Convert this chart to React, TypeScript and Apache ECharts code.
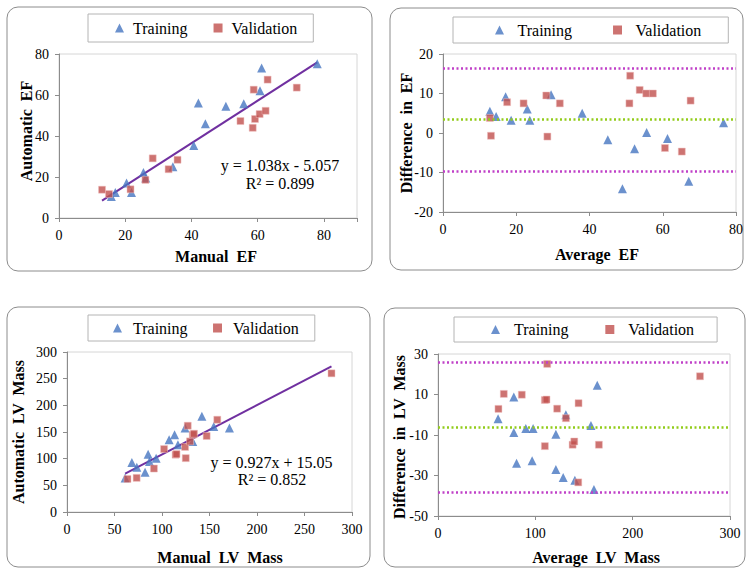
import React, { useEffect, useRef } from 'react';
import * as echarts from 'echarts';

// ---------- DATA ----------
const efTraining: number[][] = [
  [15.8, 10.5], [17.0, 12.5], [20.4, 17.1], [21.9, 12.5], [25.5, 22.2], [26.2, 19.5], [34.4, 25.0],
  [40.7, 35.4], [42.1, 56.1], [44.2, 46.0], [50.4, 54.5], [55.8, 55.7], [60.7, 62.1], [61.2, 73.2], [78.0, 75.3],
];
const efValidation: number[][] = [
  [13.0, 13.8], [15.1, 11.7], [21.6, 14.0], [26.1, 18.6], [28.3, 29.1], [33.1, 23.8], [35.8, 28.4],
  [54.8, 47.3], [58.5, 44.0], [58.8, 62.6], [59.2, 48.3], [60.6, 50.7], [62.4, 52.3], [63.0, 67.5], [71.8, 63.6],
];
const efDiffTraining: number[][] = [
  [12.8, 5.5], [14.5, 4.2], [17.1, 9.2], [18.6, 3.2], [23.0, 6.1], [23.7, 3.2], [29.5, 9.7], [38.0, 5.0],
  [45.0, -1.7], [49.0, -14.1], [52.3, -4.0], [55.6, 0.1], [61.3, -1.4], [67.1, -12.2], [76.6, 2.6],
];
const efDiffValidation: number[][] = [
  [12.8, 3.8], [13.1, -0.7], [17.5, 7.8], [22.0, 7.5], [28.2, 9.5], [28.5, -0.9], [31.9, 7.5], [50.9, 7.5],
  [51.1, 14.5], [53.7, 10.9], [55.5, 10.0], [57.3, 10.0], [60.6, -3.8], [65.2, -4.7], [67.6, 8.2],
];
const lvTraining: number[][] = [
  [61.2, 63.7], [68.3, 93], [73.5, 83.7], [82.2, 74.3], [85.4, 108.2], [86.8, 94.5], [93.8, 101],
  [107.5, 135.6], [113.2, 145], [116.8, 126], [124.3, 157.5], [132.4, 132.4], [142, 179.3], [154.5, 160.5], [171, 157.5],
];
const lvValidation: number[][] = [
  [63.7, 61.9], [73.3, 64], [91.5, 81.5], [102.2, 118], [114.3, 107.5], [115.3, 108.5], [124.3, 122],
  [125, 101], [127.1, 161.8], [129.5, 132.4], [132.4, 145], [133.7, 146.8], [147, 142.5], [158.2, 173], [278.4, 260],
];
const lvDiffTraining: number[][] = [
  [61.7, -2.0], [77.9, 8.8], [77.9, -8.8], [80.7, -23.9], [90.2, -6.8], [96.7, -22.7], [97.7, -6.8],
  [121.1, -9.6], [121.1, -27.0], [128.6, -31.0], [131.4, 0.0], [140.6, -32.4], [157.1, -5.3], [160.2, -36.9], [163.6, 14.6],
];
const lvDiffValidation: number[][] = [
  [62.1, 2.9], [67.6, 10.3], [86.1, 9.9], [109.8, 7.3], [111.5, 7.5], [112.2, 25.1], [109.8, -15.5],
  [122.4, 3.0], [131.4, -1.7], [138.3, -14.8], [140, -13.2], [144.1, -33.4], [144.4, 5.7], [165.3, -14.8], [269.2, 19.0],
];
// regression: [slope, intercept]
const efFit = [1.038, -5.057];
const lvFit = [0.927, 15.05];
// Bland-Altman: [upper, mean, lower]
const efLimits = [16.5, 3.4, -9.8];
const lvLimits = [26.0, -6.3, -38.4];
const efEquation = ['y = 1.038x - 5.057', 'R² = 0.899'];
const lvEquation = ['y = 0.927x + 15.05', 'R² = 0.852'];
const legendNames = ['Training', 'Validation'];

// ---------- STYLE ----------
const FONT = 'Liberation Serif';
const BLUE = '#4676C0';
const RED = '#C0504D';
const PURPLE = '#7030A0';
const DOT_PURPLE = '#C040C8';
const DOT_GREEN = '#92CC1A';
const AXIS = '#8C8C8C';

function fitLine(pts: number[][], fit: number[]) {
  const xs = pts.map((p) => p[0]);
  const x0 = Math.min(...xs);
  const x1 = Math.max(...xs);
  return [[x0, fit[0] * x0 + fit[1]], [x1, fit[0] * x1 + fit[1]]];
}

function axisCommon(gridIndex: number, min: number, max: number, interval: number, hideMax = false) {
  return {
    type: 'value',
    gridIndex,
    min,
    max,
    interval,
    axisLine: { show: true, onZero: false, lineStyle: { color: AXIS, width: 1 } },
    axisTick: { show: true, length: 4, lineStyle: { color: AXIS } },
    splitLine: { show: false },
    axisLabel: {
      color: '#000',
      fontSize: 14,
      fontFamily: FONT,
      margin: 10,
      formatter: (v: number) => (hideMax && v === max ? '' : String(v)),
    },
  };
}

function legend(left: number, top: number, padding: number[], gap: number, textPad: number) {
  return {
    left,
    top,
    orient: 'horizontal',
    padding,
    itemGap: gap,
    itemWidth: 9,
    itemHeight: 9,
    borderColor: '#B4B4B4',
    borderWidth: 1,
    selectedMode: false,
    textStyle: { fontSize: 16, fontFamily: FONT, color: '#000', padding: [0, 0, 0, textPad] },
    data: [
      { name: legendNames[0], icon: 'triangle', itemStyle: { color: BLUE, borderWidth: 0 } },
      { name: legendNames[1], icon: 'rect', itemStyle: { color: RED, borderWidth: 0 } },
    ],
  };
}

function scatterPair(idx: number, train: number[][], valid: number[][], limits?: number[]) {
  const s: any[] = [
    {
      name: legendNames[0],
      type: 'scatter',
      xAxisIndex: idx,
      yAxisIndex: idx,
      symbol: 'triangle',
      symbolSize: 9,
      itemStyle: { color: BLUE },
      data: train,
      z: 3,
    },
    {
      name: legendNames[1],
      type: 'scatter',
      xAxisIndex: idx,
      yAxisIndex: idx,
      symbol: 'rect',
      symbolSize: 7,
      itemStyle: { color: RED, borderColor: 'rgba(240,190,190,0.6)', borderWidth: 1 },
      data: valid,
      z: 3,
    },
  ];
  if (limits) {
    s.push({
      name: 'limits' + idx,
      type: 'line',
      xAxisIndex: idx,
      yAxisIndex: idx,
      data: [],
      markLine: {
        silent: true,
        symbol: ['none', 'none'],
        label: { show: false },
        lineStyle: { type: [2, 2.5], width: 2.5 },
        data: [
          { yAxis: limits[0], lineStyle: { color: DOT_PURPLE } },
          { yAxis: limits[1], lineStyle: { color: DOT_GREEN } },
          { yAxis: limits[2], lineStyle: { color: DOT_PURPLE } },
        ],
      },
    });
  }
  return s;
}

function fitSeries(idx: number, pts: number[][], fit: number[]) {
  return {
    name: 'fit' + idx,
    type: 'line',
    xAxisIndex: idx,
    yAxisIndex: idx,
    symbol: 'none',
    lineStyle: { color: PURPLE, width: 2 },
    data: fitLine(pts, fit),
    z: 2,
  };
}

function box(x: number, y: number, w: number, h: number) {
  return {
    type: 'rect',
    shape: { x, y, width: w, height: h, r: 11 },
    style: { fill: 'none', stroke: '#8C8C8C', lineWidth: 1 },
    silent: true,
  };
}

function title(text: string, x: number, y: number, vertical = false) {
  return {
    type: 'text',
    x,
    y,
    rotation: vertical ? Math.PI / 2 : 0,
    style: {
      text,
      font: `bold 16px ${FONT}`,
      fill: '#000',
      align: 'center',
      verticalAlign: 'middle',
    },
    silent: true,
  };
}

function plain(text: string, x: number, y: number) {
  return {
    type: 'text',
    x,
    y,
    style: { text, font: `16px ${FONT}`, fill: '#000', align: 'center', verticalAlign: 'middle' },
    silent: true,
  };
}

export default function App() {
  const ref = useRef<HTMLDivElement>(null);
  useEffect(() => {
    if (!ref.current) return;
    const chart = echarts.init(ref.current, null, { renderer: 'svg' });
    const gridBorder = { show: true, borderColor: '#D6D6D6', borderWidth: 1, containLabel: false };
    const option: any = {
      animation: false,
      backgroundColor: '#fff',
      textStyle: { fontFamily: FONT },
      grid: [
        { ...gridBorder, left: 59, top: 54, width: 298, height: 164 },
        { ...gridBorder, left: 443, top: 54, width: 294, height: 158 },
        { ...gridBorder, left: 67, top: 352, width: 285, height: 160 },
        { ...gridBorder, left: 438, top: 354, width: 292, height: 162 },
      ],
      xAxis: [
        axisCommon(0, 0, 90, 20, true),
        axisCommon(1, 0, 80, 20),
        axisCommon(2, 0, 300, 50),
        axisCommon(3, 0, 300, 100),
      ],
      yAxis: [
        axisCommon(0, 0, 80, 20),
        axisCommon(1, -20, 20, 10),
        axisCommon(2, 0, 300, 50),
        axisCommon(3, -50, 30, 20),
      ],
      legend: [
        legend(88, 14, [6, 16, 6, 27], 26, 4),
        legend(453, 17, [5, 27, 5, 42], 41, 8.5),
        legend(88, 315, [5, 16, 5, 25], 25.5, 6),
        legend(454, 317, [4.5, 23, 4.5, 37], 36.8, 9),
      ],
      graphic: [
        box(7, 7, 365, 264),
        box(390, 8, 353, 262),
        box(7, 307, 363, 260),
        box(384, 308, 361, 259),
        title('Automatic  EF', 26, 131, true),
        title('Manual  EF', 216, 256),
        title('Difference  in  EF', 406.5, 133, true),
        title('Average  EF', 597, 254),
        title('Automatic  LV  Mass', 18.5, 432, true),
        title('Manual  LV  Mass', 220, 557),
        title('Difference  in  LV  Mass', 399.5, 437, true),
        title('Average  LV  Mass', 596, 557),
        plain(efEquation[0], 280, 165),
        plain(efEquation[1], 280, 183),
        plain(lvEquation[0], 271.5, 462),
        plain(lvEquation[1], 272, 479),
      ],
      series: [
        ...scatterPair(0, efTraining, efValidation),
        fitSeries(0, [...efTraining, ...efValidation], efFit),
        ...scatterPair(1, efDiffTraining, efDiffValidation, efLimits),
        ...scatterPair(2, lvTraining, lvValidation),
        fitSeries(2, [...lvTraining, ...lvValidation], lvFit),
        ...scatterPair(3, lvDiffTraining, lvDiffValidation, lvLimits),
      ],
    };
    chart.setOption(option);
    return () => chart.dispose();
  }, []);
  return (
    <div
      ref={ref}
      style={{ position: 'fixed', left: 0, top: 0, width: 746, height: 568 }}
    />
  );
}
